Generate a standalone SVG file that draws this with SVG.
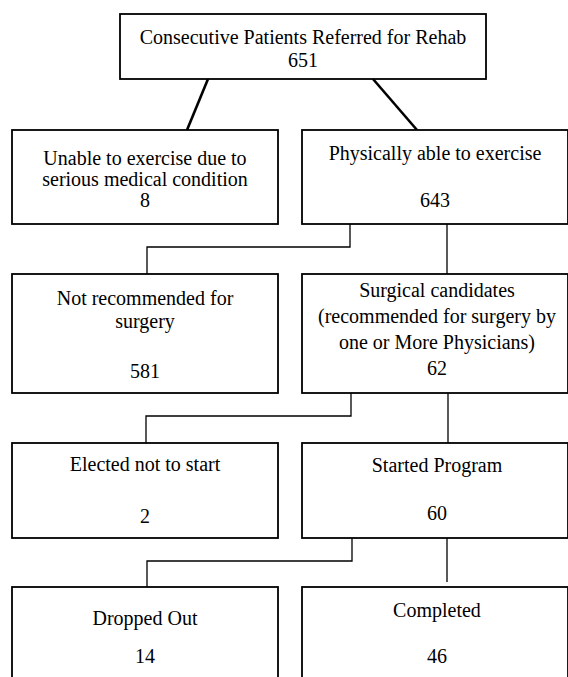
<svg xmlns="http://www.w3.org/2000/svg" width="568" height="677" viewBox="0 0 568 677">
<style>
.box{fill:#fff;stroke:#000;stroke-width:1.8}
.t{font-family:"Liberation Serif","Times New Roman",serif;font-size:20px;fill:#000;text-anchor:middle}
.c{fill:none;stroke:#000;stroke-width:1.3}
.d{fill:none;stroke:#000;stroke-width:2.6}
</style>
<rect width="568" height="677" fill="#fff"/>
<g id="connectors">
<line class="d" x1="208" y1="79" x2="187" y2="130"/>
<line class="d" x1="373" y1="79" x2="417" y2="130"/>
<polyline class="c" points="350,224 350,247 147,247 147,274"/>
<line class="c" x1="447" y1="224" x2="447" y2="274"/>
<polyline class="c" points="351,393 351,416 146,416 146,443"/>
<line class="c" x1="448" y1="393" x2="448" y2="443"/>
<polyline class="c" points="352,538 352,561 147,561 147,587"/>
<line class="c" x1="447" y1="538" x2="447" y2="582"/>
</g>
<g id="n_referred">
<rect class="box" x="120" y="14" width="366" height="65"/>
<text class="t" x="303" y="44">Consecutive Patients Referred for Rehab</text>
<text class="t" x="303" y="67">651</text>
</g>
<g id="n_unable">
<rect class="box" x="12" y="130" width="266" height="94"/>
<text class="t" x="145" y="165">Unable to exercise due to</text>
<text class="t" x="145" y="186">serious medical condition</text>
<text class="t" x="145" y="207">8</text>
</g>
<g id="n_able">
<rect class="box" x="302" y="130" width="266" height="94"/>
<text class="t" x="435" y="160">Physically able to exercise</text>
<text class="t" x="435" y="207">643</text>
</g>
<g id="n_notrec">
<rect class="box" x="12" y="274" width="266" height="119"/>
<text class="t" x="145" y="305">Not recommended for</text>
<text class="t" x="145" y="328">surgery</text>
<text class="t" x="145" y="378">581</text>
</g>
<g id="n_surgical">
<rect class="box" x="302" y="274" width="266" height="119"/>
<text class="t" x="437" y="297">Surgical candidates</text>
<text class="t" x="437" y="323">(recommended for surgery by</text>
<text class="t" x="437" y="349">one or More Physicians)</text>
<text class="t" x="437" y="375">62</text>
</g>
<g id="n_elected">
<rect class="box" x="12" y="443" width="266" height="95"/>
<text class="t" x="145" y="471">Elected not to start</text>
<text class="t" x="145" y="523">2</text>
</g>
<g id="n_started">
<rect class="box" x="302" y="443" width="266" height="95"/>
<text class="t" x="437" y="472">Started Program</text>
<text class="t" x="437" y="520">60</text>
</g>
<g id="n_dropped">
<rect class="box" x="12" y="587" width="266" height="100"/>
<text class="t" x="145" y="625">Dropped Out</text>
<text class="t" x="145" y="663">14</text>
</g>
<g id="n_completed">
<rect class="box" x="302" y="587" width="266" height="100"/>
<text class="t" x="437" y="617">Completed</text>
<text class="t" x="437" y="663">46</text>
</g>
</svg>
